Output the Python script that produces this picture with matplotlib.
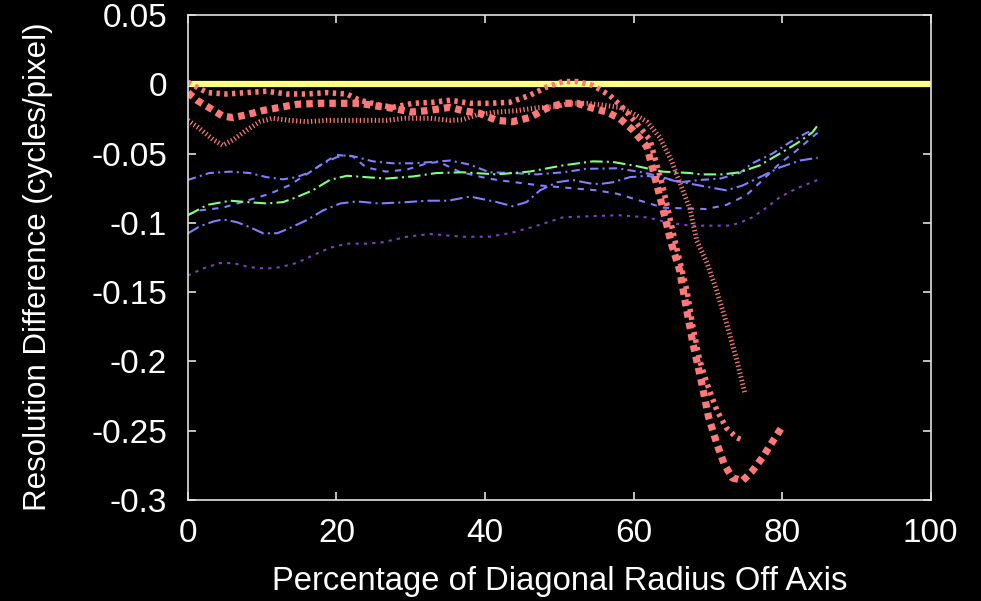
import matplotlib
matplotlib.use("Agg")
import matplotlib.pyplot as plt
import numpy as np

plt.rcParams['font.family'] = ['Liberation Sans', 'DejaVu Sans']

# reference (on axis) - flat at zero
x_ref = [0, 100]
y_ref = [0.0, 0.0]

# red curves
x_red_a = [0, 2.6, 5.2, 7.9, 10.6, 13.3, 16.0, 18.7, 21.4, 23.1, 25.8, 27.6, 30.3, 33.0, 35.3,
           38.0, 40.6, 43.3, 46.0, 48.3, 50.5, 52.4, 54.5, 56.8, 58.5, 60.4, 62.2, 64.0, 65.8,
           67.2, 68.0, 68.9, 69.9, 71.2, 72.5, 73.9, 74.7]
y_red_a = [0.0014, -0.006, -0.007, -0.006, -0.005, -0.007, -0.007, -0.006, -0.007, -0.0115,
           -0.015, -0.0166, -0.0137, -0.013, -0.0115, -0.0137, -0.0137, -0.013, -0.008, -0.002,
           0.002, 0.002, -0.0007, -0.008, -0.0166, -0.028, -0.040, -0.075, -0.118,
           -0.149, -0.175, -0.199, -0.216, -0.235, -0.248, -0.255, -0.257]

x_red_b = [0, 1.2, 2.9, 4.7, 6.1, 7.9, 10.0, 12.4, 14.7, 17.8, 20.5, 23.1, 25.8, 27.6, 30.0,
           32.2, 33.5, 35.3, 37.0, 39.3, 41.6, 43.7, 46.0, 48.3, 50.5, 52.4, 54.1, 56.4, 58.1,
           59.9, 61.8, 63.5, 65.1, 66.2, 67.1, 68.0, 69.2, 70.1, 71.2, 72.2, 73.3, 74.7,
           76.0, 77.4, 78.7, 79.9]
y_red_b = [-0.006, -0.0115, -0.017, -0.023, -0.024, -0.022, -0.019, -0.0166, -0.0144, -0.0137,
           -0.0137, -0.0137, -0.016, -0.0173, -0.020, -0.019, -0.018, -0.0166, -0.019,
           -0.021, -0.026, -0.027, -0.024, -0.0173, -0.0137, -0.0137, -0.0166, -0.020,
           -0.0245, -0.033, -0.045, -0.080, -0.115, -0.134, -0.161, -0.187, -0.216, -0.240,
           -0.259, -0.274, -0.284, -0.286, -0.279, -0.269, -0.258, -0.248]

x_red_c = [0, 1.6, 3.4, 4.7, 6.1, 7.9, 9.7, 11.4, 13.7, 16.0, 18.7, 21.4, 24.0, 26.7, 29.3,
           32.6, 35.3, 37.0, 38.9, 41.6, 44.3, 47.0, 49.7, 51.4, 53.7, 55.8, 58.1, 59.9, 61.8,
           63.5, 65.1, 67.6, 68.5, 69.9, 71.2, 72.5, 73.9, 75.0]
y_red_c = [-0.026, -0.032, -0.040, -0.044, -0.040, -0.033, -0.027, -0.0245, -0.026, -0.027,
           -0.026, -0.026, -0.026, -0.026, -0.0245, -0.0245, -0.026, -0.0255, -0.022, -0.020,
           -0.019, -0.017, -0.016, -0.0137, -0.0137, -0.015, -0.0166, -0.021, -0.027,
           -0.038, -0.055, -0.090, -0.1126, -0.129, -0.149, -0.172, -0.199, -0.223]

# blue / green / purple curves
x_blue1 = [0, 2.9, 5.7, 8.3, 10.6, 12.8, 14.6, 16.4, 18.2, 20.0, 21.4, 23.1, 24.9, 27.6, 30.3,
           33.0, 35.3, 38.0, 40.6, 43.7, 47.0, 50.5, 53.7, 57.8, 61.2, 63.9, 66.2, 69.0, 71.7,
           74.3, 76.0, 78.7, 81.0, 83.3, 84.8]
y_blue1 = [-0.069, -0.064, -0.063, -0.064, -0.067, -0.0686, -0.067, -0.0635, -0.057, -0.0527,
           -0.051, -0.053, -0.0556, -0.057, -0.057, -0.056, -0.055, -0.058, -0.0635, -0.064,
           -0.065, -0.0635, -0.061, -0.0606, -0.0635, -0.067, -0.0707, -0.069, -0.068,
           -0.064, -0.057, -0.050, -0.042, -0.035, -0.032]

x_blue2 = [0, 1.6, 4.7, 7.9, 11.0, 13.6, 16.4, 18.2, 20.0, 22.2, 24.0, 26.7, 29.5, 32.2, 33.8,
           36.5, 39.6, 41.6, 47.4, 55.0, 57.8, 64.0, 66.6, 69.8, 72.5, 75.2, 77.4, 79.7, 81.9,
           84.1, 84.8]
y_blue2 = [-0.094, -0.091, -0.089, -0.084, -0.079, -0.073, -0.0635, -0.057, -0.051, -0.052,
           -0.060, -0.063, -0.0615, -0.057, -0.056, -0.063, -0.067, -0.069, -0.073, -0.0765,
           -0.079, -0.089, -0.0895, -0.090, -0.087, -0.080, -0.069, -0.057, -0.048,
           -0.038, -0.035]

x_blue3 = [0, 1.6, 3.4, 4.7, 6.6, 8.3, 10.1, 12.0, 13.6, 16.0, 18.2, 20.5, 22.7, 25.8, 29.5,
           32.2, 35.0, 38.0, 41.6, 43.7, 45.6, 47.4, 49.7, 51.8, 54.1, 55.4, 57.2, 59.5, 61.8,
           63.9, 66.6, 69.9, 72.5, 74.7, 77.0, 79.7, 82.4, 84.8]
y_blue3 = [-0.1075, -0.1025, -0.099, -0.0975, -0.0995, -0.103, -0.1075, -0.1075, -0.104,
           -0.098, -0.091, -0.086, -0.0845, -0.086, -0.085, -0.084, -0.084, -0.081, -0.085,
           -0.088, -0.085, -0.0765, -0.0707, -0.069, -0.0715, -0.072, -0.0707, -0.067, -0.066,
           -0.068, -0.0707, -0.074, -0.0765, -0.073, -0.067, -0.060, -0.055, -0.053]

x_green = [0, 2.6, 5.7, 8.0, 10.6, 12.8, 14.6, 16.8, 19.1, 21.4, 24.0, 26.7, 30.3, 33.5, 37.0,
           41.6, 46.0, 50.5, 54.5, 57.2, 60.4, 63.9, 67.6, 69.0, 72.0, 74.3, 77.0, 79.7, 82.0,
           84.1, 84.8]
y_green = [-0.0945, -0.087, -0.084, -0.085, -0.086, -0.085, -0.0815, -0.0765, -0.069, -0.066,
           -0.067, -0.068, -0.0665, -0.064, -0.0635, -0.065, -0.063, -0.0585, -0.0556, -0.056,
           -0.059, -0.063, -0.064, -0.065, -0.065, -0.0635, -0.0585, -0.050, -0.0426,
           -0.0346, -0.0296]

x_purple = [0, 2.0, 4.3, 6.1, 8.3, 10.6, 12.4, 14.6, 16.8, 19.1, 21.4, 24.0, 26.2, 29.5, 32.6,
            37.0, 40.6, 43.7, 47.0, 50.5, 55.0, 58.1, 61.8, 64.9, 67.6, 72.9, 74.3, 76.0, 77.9,
            79.7, 82.0, 84.8]
y_purple = [-0.138, -0.133, -0.129, -0.129, -0.132, -0.133, -0.132, -0.129, -0.1235, -0.118,
            -0.115, -0.115, -0.114, -0.110, -0.108, -0.110, -0.110, -0.107, -0.102, -0.096,
            -0.095, -0.0945, -0.096, -0.100, -0.102, -0.102, -0.100, -0.096, -0.089,
            -0.0815, -0.075, -0.069]

fig = plt.figure(figsize=(9.81, 6.01), dpi=100, facecolor='black')
ax = fig.add_axes([0.1916, 0.168, 0.757, 0.807], facecolor='black')

red = '#ff7878'
ax.plot(x_blue1, y_blue1, color='#7f7fff', lw=1.5, dashes=(4, 2, 1, 2))
ax.plot(x_blue2, y_blue2, color='#7f7fff', lw=1.5, dashes=(3, 3))
ax.plot(x_blue3, y_blue3, color='#7f7fff', lw=1.5, dashes=(6, 2, 1, 2))
ax.plot(x_green, y_green, color='#80ff80', lw=1.5, dashes=(6, 2, 1, 2))
ax.plot(x_purple, y_purple, color='#8040c0', lw=1.5, dashes=(1.5, 2.5))
ax.plot(x_ref, y_ref, color='#ffff80', lw=4.5, solid_capstyle='butt')
ax.plot(x_red_c, y_red_c, color=red, lw=3.6, dashes=(0.25, 0.5), dash_capstyle='butt')
ax.plot(x_red_a, y_red_a, color=red, lw=4.0, dashes=(0.6, 0.8), dash_capstyle='butt')
ax.plot(x_red_b, y_red_b, color=red, lw=5.2, dashes=(0.9, 0.7), dash_capstyle='butt')

ax.set_xlim(0, 100)
ax.set_ylim(-0.3, 0.05)
ax.set_xticks([0, 20, 40, 60, 80, 100])
ax.set_yticks([-0.3, -0.25, -0.2, -0.15, -0.1, -0.05, 0, 0.05])
ax.set_yticklabels(['-0.3', '-0.25', '-0.2', '-0.15', '-0.1', '-0.05', '0', '0.05'])

for s in ax.spines.values():
    s.set_color('#e0e0e0')
    s.set_linewidth(1.2)
ax.tick_params(direction='in', length=6, width=1.2, colors='#e0e0e0', labelcolor='white',
               labelsize=24, top=True, right=True)
ax.tick_params(axis='x', pad=13)
ax.tick_params(axis='y', pad=15)

ax.set_xlabel('Percentage of Diagonal Radius Off Axis', color='white', fontsize=23.6, labelpad=12)
ax.set_ylabel('Resolution Difference (cycles/pixel)', color='white', fontsize=22.5)
ax.yaxis.set_label_coords(-0.182, 0.482)

fig.savefig('out.png', dpi=100, facecolor='black')
